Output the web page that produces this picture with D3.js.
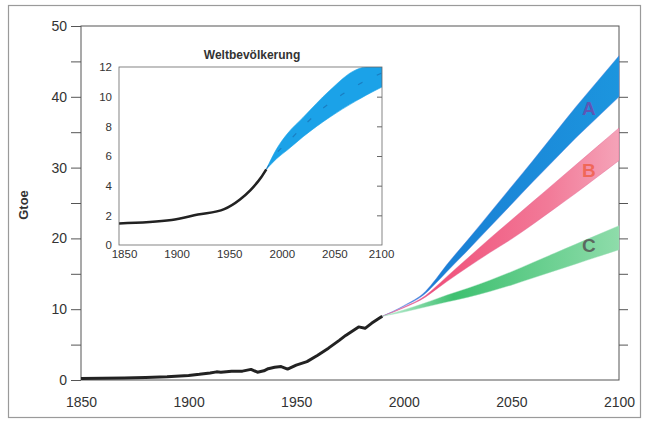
<!DOCTYPE html>
<html>
<head>
<meta charset="utf-8">
<script src="https://cdn.jsdelivr.net/npm/d3@7"></script>
<style>
  body { margin: 0; background: #fff; }
  svg { display: block; font-family: "Liberation Sans", Arial, sans-serif; }
</style>
</head>
<body>
<div id="chart"></div>
<script>
// world energy consumption (Gtoe)
const energyYears  = [1850, 1860, 1870, 1880, 1890, 1900, 1905, 1910, 1913, 1915, 1920, 1925, 1929, 1932, 1935, 1937, 1940, 1943, 1946, 1950, 1955, 1960, 1965, 1970, 1973, 1976, 1979, 1982, 1985, 1988, 1990];
const energyValues = [0.2, 0.25, 0.3, 0.35, 0.45, 0.65, 0.8, 1.0, 1.15, 1.1, 1.25, 1.25, 1.5, 1.1, 1.3, 1.6, 1.8, 1.9, 1.55, 2.1, 2.6, 3.5, 4.5, 5.6, 6.3, 6.9, 7.5, 7.3, 8.0, 8.6, 9.0];

// scenario bands A, B, C
const scenarioYears = [1990, 2000, 2010, 2015, 2020, 2030, 2040, 2050, 2060, 2070, 2080, 2090, 2100];
const scenA_high = [9.0, 10.5, 12.5, 14.3, 16.3, 19.9, 23.6, 27.3, 31.0, 34.8, 38.6, 42.2, 45.8];
const scenA_low  = [9.0, 10.4, 12.2, 13.7, 15.3, 18.4, 21.6, 24.8, 28.0, 31.1, 34.2, 37.1, 40.0];
const scenB_high = [9.0, 10.3, 11.9, 13.2, 14.6, 17.3, 20.0, 22.6, 25.2, 27.8, 30.4, 33.0, 35.6];
const scenB_low  = [9.0, 10.2, 11.7, 12.8, 13.9, 16.0, 18.0, 19.9, 22.0, 24.2, 26.4, 28.7, 31.0];
const scenC_high = [9.0, 9.9, 10.9, 11.45, 12.0, 13.0, 14.1, 15.3, 16.6, 17.9, 19.2, 20.5, 21.8];
const scenC_low  = [9.0, 9.6, 10.3, 10.65, 11.0, 11.7, 12.5, 13.4, 14.4, 15.4, 16.4, 17.4, 18.4];

// inset: world population (billions)
const popYears  = [1850, 1900, 1925, 1950, 1965, 1975, 1985, 1990];
const popValues = [1.45, 1.68, 2.05, 2.42, 3.07, 3.7, 4.55, 5.1];
const popBandYears = [1990, 2000, 2010, 2025, 2050, 2075, 2085, 2100];
const popBandHigh  = [5.1, 6.5, 7.5, 8.6, 10.4, 11.8, 12.0, 12.0];
const popBandLow   = [5.1, 5.83, 6.4, 7.3, 8.6, 9.7, 10.1, 10.65];
const popMidYears = [1990, 2000, 2010, 2025, 2040, 2055, 2070, 2085, 2100];
const popMid      = [5.1, 6.2, 6.9, 8.0, 9.0, 9.8, 10.5, 11.1, 11.6];

const xTicks = [1850, 1900, 1950, 2000, 2050, 2100];
const yTicks = [0, 5, 10, 15, 20, 25, 30, 35, 40, 45, 50];
const insetYTicks = [0, 2, 4, 6, 8, 10, 12];

const W = 648, H = 422;
const svg = d3.select("#chart").append("svg")
    .attr("width", W)
    .attr("height", H)
    .attr("viewBox", `0 0 ${W} ${H}`);

const defs = svg.append("defs");
function gradient(id, stops) {
    const g = defs.append("linearGradient").attr("id", id)
        .attr("x1", "0%").attr("x2", "100%").attr("y1", "0%").attr("y2", "0%");
    stops.forEach(s => g.append("stop").attr("offset", s[0]).attr("stop-color", s[1]));
}
gradient("gradA", [["0%", "#7a86e4"], ["22%", "#1a7fd4"], ["100%", "#1c95de"]]);
gradient("gradB", [["0%", "#d87ccc"], ["22%", "#f0507a"], ["70%", "#f27a98"], ["100%", "#f5a3b8"]]);
gradient("gradC", [["0%", "#c4f0d8"], ["30%", "#3ec070"], ["100%", "#8edcaa"]]);

// outer frame
svg.append("rect")
    .attr("x", 8.5).attr("y", 5.5).attr("width", 632).attr("height", 412)
    .attr("fill", "none").attr("stroke", "#9a9a9a").attr("stroke-width", 1.2);

const x = d3.scaleLinear().domain([1850, 2100]).range([81, 619]);
const y = d3.scaleLinear().domain([0, 50]).range([380, 26]);

// main frame
svg.append("rect")
    .attr("x", x(1850)).attr("y", y(50))
    .attr("width", x(2100) - x(1850)).attr("height", y(0) - y(50))
    .attr("fill", "none").attr("stroke", "#555").attr("stroke-width", 1);

const leftAxis = svg.append("g")
    .attr("transform", `translate(${x(1850)},0)`)
    .call(d3.axisLeft(y).tickValues(yTicks).tickSize(10).tickPadding(4)
        .tickFormat(d => d % 10 === 0 ? d : ""));
const rightAxis = svg.append("g")
    .attr("transform", `translate(${x(2100)},0)`)
    .call(d3.axisRight(y).tickValues(yTicks.filter(d => d > 0 && d < 50)).tickSize(9).tickFormat(""));
const bottomAxis = svg.append("g")
    .attr("transform", `translate(0,${y(0)})`)
    .call(d3.axisBottom(x).tickValues(xTicks).tickSize(0).tickPadding(17).tickFormat(d3.format("d")));

[leftAxis, rightAxis, bottomAxis].forEach(g => {
    g.select(".domain").remove();
    g.selectAll("line").attr("stroke", "#555");
    g.selectAll("text").attr("font-size", 14).attr("fill", "#333")
        .attr("font-family", "'Liberation Sans', Arial, sans-serif");
});

svg.append("text")
    .attr("transform", "translate(28,205) rotate(-90)")
    .attr("text-anchor", "middle")
    .attr("font-size", 13).attr("font-weight", "bold").attr("fill", "#333")
    .text("Gtoe");

// scenario bands
const bandArea = d3.area()
    .x(d => x(d.year))
    .y0(d => y(d.low))
    .y1(d => y(d.high))
    .curve(d3.curveMonotoneX);

const scenarios = [
    { name: "A", high: scenA_high, low: scenA_low, fill: "url(#gradA)", stroke: "#5a80e0", label: "#6a4cae", at: [2086, 38.4] },
    { name: "B", high: scenB_high, low: scenB_low, fill: "url(#gradB)", stroke: "#e06090", label: "#f0604a", at: [2086, 29.7] },
    { name: "C", high: scenC_high, low: scenC_low, fill: "url(#gradC)", stroke: "#9fe0bc", label: "#555", at: [2086, 19.0] }
];

scenarios.forEach(s => {
    const rows = scenarioYears.map((yr, i) => ({ year: yr, high: s.high[i], low: s.low[i] }));
    svg.append("path")
        .datum(rows)
        .attr("d", bandArea)
        .attr("fill", s.fill)
        .attr("stroke", s.stroke)
        .attr("stroke-width", 0.6)
        .attr("stroke-opacity", 0.7);
});

// band labels
scenarios.forEach(s => {
    svg.append("text")
        .attr("x", x(s.at[0])).attr("y", y(s.at[1]))
        .attr("dy", "0.36em")
        .attr("text-anchor", "middle")
        .attr("font-size", 19).attr("font-weight", "bold")
        .attr("fill", s.label).attr("fill-opacity", 0.85)
        .text(s.name);
});

// historic energy curve
const energyLine = d3.line()
    .x((d, i) => x(energyYears[i]))
    .y(d => y(d))
    .curve(d3.curveLinear);

svg.append("path")
    .datum(energyValues)
    .attr("d", energyLine)
    .attr("fill", "none")
    .attr("stroke", "#222")
    .attr("stroke-width", 3)
    .attr("stroke-linejoin", "round");

// ---- inset: Weltbevölkerung ----
const xi = d3.scaleLinear().domain([1850, 2100]).range([119, 382]);
const yi = d3.scaleLinear().domain([0, 12]).range([245, 67]);

defs.append("clipPath").attr("id", "insetClip")
    .append("rect")
    .attr("x", xi(1850)).attr("y", yi(12))
    .attr("width", xi(2100) - xi(1850)).attr("height", yi(0) - yi(12));

const inset = svg.append("g");

const popArea = d3.area()
    .x((d, i) => xi(popBandYears[i]))
    .y0((d, i) => yi(popBandLow[i]))
    .y1(d => yi(d))
    .curve(d3.curveMonotoneX);

inset.append("path")
    .datum(popBandHigh)
    .attr("clip-path", "url(#insetClip)")
    .attr("d", popArea)
    .attr("fill", "#1ba2e8")
    .attr("stroke", "#1ba2e8")
    .attr("stroke-width", 0.6);

inset.append("path")
    .datum(popMid)
    .attr("d", d3.line().x((d, i) => xi(popMidYears[i])).y(d => yi(d)).curve(d3.curveMonotoneX))
    .attr("fill", "none")
    .attr("stroke", "#1a5a9c")
    .attr("stroke-opacity", 0.5)
    .attr("stroke-width", 1.2)
    .attr("stroke-dasharray", "5,16");

inset.append("path")
    .datum(popValues)
    .attr("d", d3.line().x((d, i) => xi(popYears[i])).y(d => yi(d)).curve(d3.curveMonotoneX))
    .attr("fill", "none")
    .attr("stroke", "#222")
    .attr("stroke-width", 2.6);

inset.append("rect")
    .attr("x", xi(1850)).attr("y", yi(12))
    .attr("width", xi(2100) - xi(1850)).attr("height", yi(0) - yi(12))
    .attr("fill", "none").attr("stroke", "#666").attr("stroke-width", 0.8);

const insetLeft = inset.append("g")
    .attr("transform", `translate(${xi(1850)},0)`)
    .call(d3.axisLeft(yi).tickValues(insetYTicks).tickSize(0).tickPadding(7));
const insetRight = inset.append("g")
    .attr("transform", `translate(${xi(2100)},0)`)
    .call(d3.axisLeft(yi).tickValues(insetYTicks.filter(d => d > 0 && d < 12)).tickSize(5).tickFormat(""));
const insetBottom = inset.append("g")
    .attr("transform", `translate(0,${yi(0)})`)
    .call(d3.axisBottom(xi).tickValues(xTicks).tickSize(0).tickPadding(5).tickFormat(d3.format("d")));

[insetLeft, insetRight, insetBottom].forEach(g => {
    g.select(".domain").remove();
    g.selectAll("line").attr("stroke", "#666");
    g.selectAll("text").attr("font-size", 11.5).attr("fill", "#333")
        .attr("font-family", "'Liberation Sans', Arial, sans-serif");
});
// the year labels sit a little right of their positions in the original
insetBottom.selectAll("text").attr("dx", d => d === 2100 ? -1 : 5);

inset.append("text")
    .attr("x", 252).attr("y", 59)
    .attr("text-anchor", "middle")
    .attr("font-size", 12).attr("font-weight", "bold").attr("fill", "#333")
    .text("Weltbevölkerung");
</script>
</body>
</html>
